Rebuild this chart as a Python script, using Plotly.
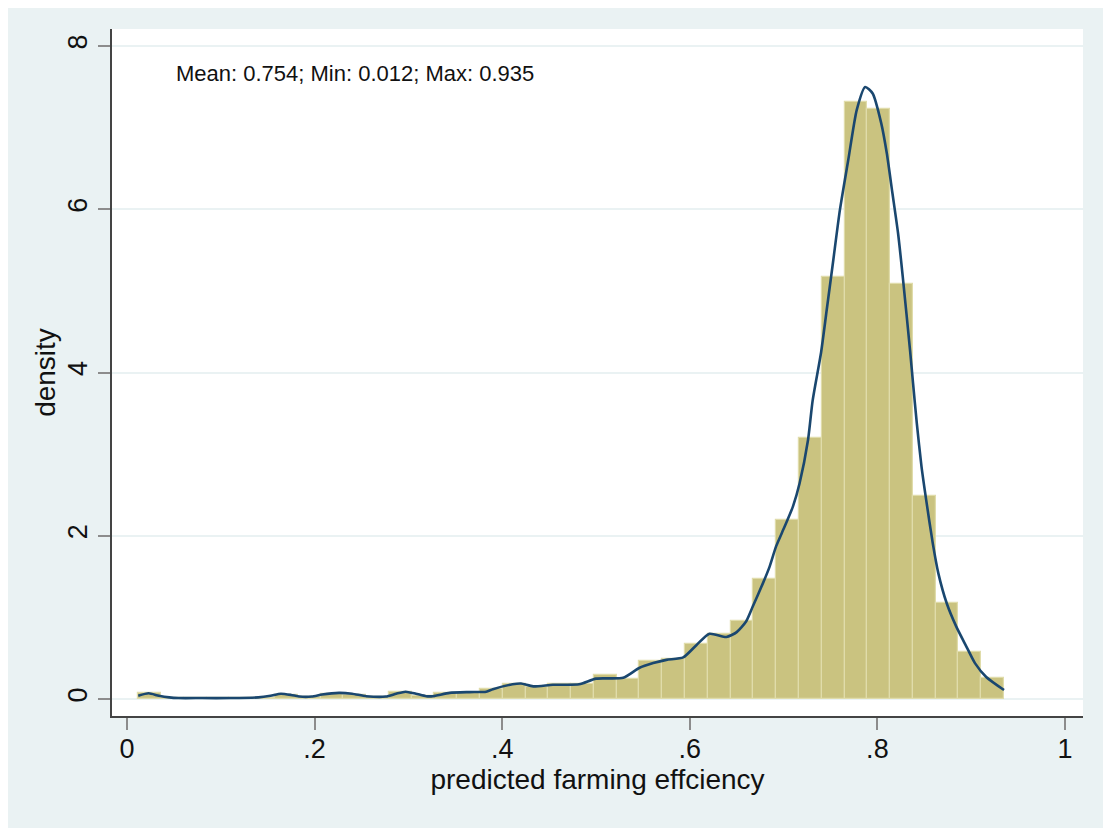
import numpy as np
import plotly.graph_objects as go

# ---- data ----
x_min = 0.012
x_max = 0.935
x_mean = 0.754
n_bins = 38
bar_density = [0.07, 0.015, 0.01, 0.01, 0.01, 0.015, 0.05, 0.02, 0.06, 0.05,
               0.02, 0.09, 0.04, 0.07, 0.08, 0.12, 0.18, 0.15, 0.18, 0.19,
               0.29, 0.25, 0.46, 0.49, 0.67, 0.80, 0.95, 1.47, 2.19, 3.20,
               5.17, 7.32, 7.23, 5.09, 2.49, 1.18, 0.58, 0.26]

kde_x = [0.012, 0.023, 0.034, 0.045, 0.055, 0.08, 0.11, 0.14, 0.153, 0.164,
         0.175, 0.184, 0.197, 0.208, 0.226, 0.240, 0.255, 0.276, 0.287, 0.297,
         0.308, 0.319, 0.326, 0.344, 0.365, 0.383, 0.390, 0.411, 0.420, 0.433,
         0.454, 0.482, 0.500, 0.529, 0.546, 0.561, 0.575, 0.593, 0.607, 0.621,
         0.639, 0.650, 0.660, 0.667, 0.678, 0.685, 0.692, 0.701, 0.710, 0.717,
         0.726, 0.731, 0.740, 0.746, 0.753, 0.760, 0.769, 0.778, 0.787, 0.795,
         0.804, 0.810, 0.816, 0.822, 0.827, 0.835, 0.838, 0.842, 0.847, 0.852,
         0.859, 0.865, 0.874, 0.884, 0.895, 0.904, 0.916, 0.935]
kde_y = [0.04, 0.07, 0.04, 0.02, 0.012, 0.012, 0.012, 0.02, 0.04, 0.065,
         0.05, 0.03, 0.03, 0.055, 0.075, 0.065, 0.035, 0.03, 0.065, 0.09,
         0.065, 0.035, 0.035, 0.075, 0.085, 0.09, 0.12, 0.18, 0.19, 0.155,
         0.175, 0.18, 0.25, 0.26, 0.38, 0.44, 0.48, 0.51, 0.66, 0.80,
         0.76, 0.82, 0.95, 1.13, 1.42, 1.62, 1.87, 2.11, 2.36, 2.64,
         3.17, 3.66, 4.25, 4.77, 5.38, 5.99, 6.61, 7.22, 7.50, 7.42,
         7.06, 6.69, 6.20, 5.71, 5.18, 4.25, 3.87, 3.38, 2.85, 2.44,
         1.91, 1.54, 1.17, 0.89, 0.64, 0.44, 0.27, 0.11]

x_tick_vals = [0, 0.2, 0.4, 0.6, 0.8, 1]
x_tick_text = ["0", ".2", ".4", ".6", ".8", "1"]
y_tick_vals = [0, 2, 4, 6, 8]
y_tick_text = ["0", "2", "4", "6", "8"]

x_title = "predicted farming effciency"
y_title = "density"
note = f"Mean: {x_mean:.3f}; Min: {x_min:.3f}; Max: {x_max:.3f}"

# ---- build ----
edges = np.linspace(x_min, x_max, n_bins + 1)
centers = (edges[:-1] + edges[1:]) / 2
width = edges[1] - edges[0]

BG = "#EAF2F3"
FONT = "Liberation Sans, Arial, sans-serif"

fig = go.Figure()
fig.add_trace(go.Bar(
    x=centers, y=bar_density, width=width,
    marker=dict(color="rgb(202,195,128)", line=dict(color="rgb(224,220,170)", width=1.2)),
    showlegend=False, hoverinfo="skip",
))
fig.add_trace(go.Scatter(
    x=kde_x, y=kde_y, mode="lines",
    line=dict(color="#1A476F", width=2.6, shape="spline", smoothing=0.6),
    showlegend=False,
))

fig.update_layout(
    width=1103, height=820,
    margin=dict(l=104, r=28, t=21, b=112),
    paper_bgcolor=BG, plot_bgcolor="white",
    font=dict(family=FONT, color="#111111"),
    bargap=0,
    xaxis=dict(
        range=[-0.016, 1.0192], tickvals=x_tick_vals, ticktext=x_tick_text,
        showgrid=False, zeroline=False,
        showline=True, linecolor="#444444", linewidth=1.5,
        ticks="outside", ticklen=12, tickwidth=1.5, tickcolor="#8C8C8C",
        ticklabelstandoff=-4,
        tickfont=dict(size=27, color="#111111"),
        title=dict(text=x_title, font=dict(size=28, color="#111111"), standoff=4),
    ),
    yaxis=dict(
        range=[-0.208, 8.21], tickvals=y_tick_vals, ticktext=y_tick_text,
        tickangle=-90,
        showgrid=True, gridcolor=BG, gridwidth=1.5, zeroline=False,
        showline=True, linecolor="#444444", linewidth=1.5,
        ticks="outside", ticklen=12, tickwidth=1.5, tickcolor="#8C8C8C",
        tickfont=dict(size=27, color="#111111"),
        title=dict(text=y_title, font=dict(size=28, color="#111111"), standoff=0),
    ),
    annotations=[dict(
        x=0.050, y=7.66, xref="x", yref="y", text=note, showarrow=False,
        xanchor="left", yanchor="middle", font=dict(size=22, color="#111111"),
    )],
)

fig.write_html("out.html")
